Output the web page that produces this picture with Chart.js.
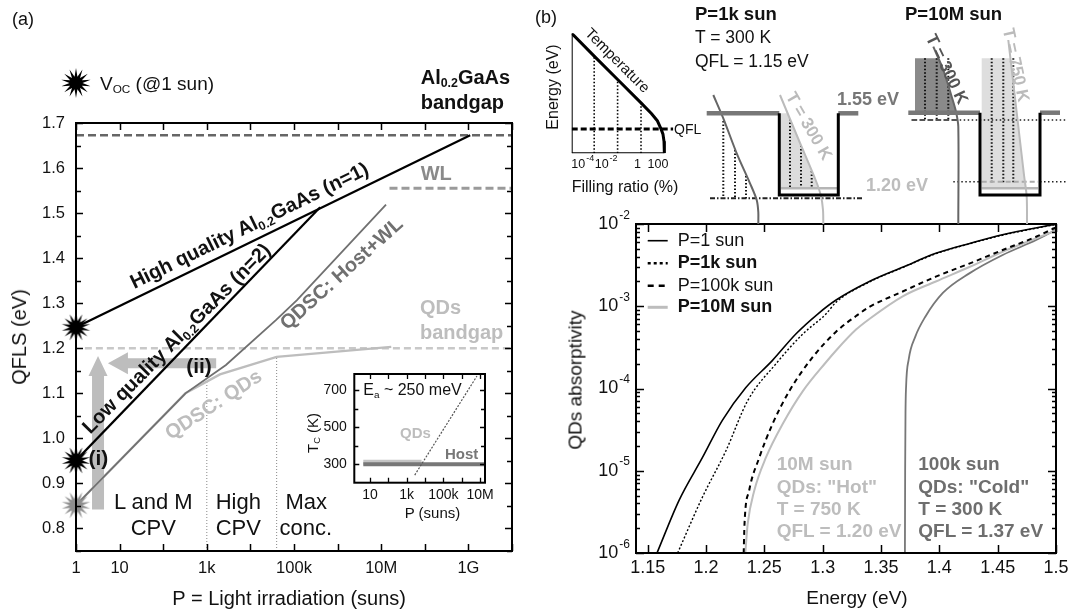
<!DOCTYPE html>
<html><head><meta charset="utf-8">
<script src="https://cdn.jsdelivr.net/npm/chart.js@4.4.1/dist/chart.umd.min.js"></script>
<style>
html,body{margin:0;padding:0;background:#fff;}
#root{position:relative;width:1069px;height:609px;overflow:hidden;font-family:"Liberation Sans",Arial,Helvetica,sans-serif;color:#000;background:#fff;}
canvas{position:absolute;}
.t{position:absolute;white-space:nowrap;line-height:1;}
.t sub{font-size:62%;vertical-align:-0.28em;line-height:0;}
</style></head>
<body><div id="root">
<canvas id="cA" width="530" height="609" style="left:0px;top:0px"></canvas>
<canvas id="cI" width="215" height="160" style="left:290px;top:365px"></canvas>
<canvas id="cB" width="539" height="409" style="left:530px;top:200px"></canvas>
<canvas id="cS" width="150" height="180" style="left:540px;top:20px"></canvas>
<canvas id="cW" width="379" height="224" style="left:690px;top:0px"></canvas>
<canvas id="cStar" width="34" height="34" style="left:59px;top:66px"></canvas>
</div>
<script>
// ================= DATA =================
// ---- Panel (a): QFLS vs light irradiation ----
const aXTicks = [1,10,1e2,1e3,1e4,1e5,1e6,1e7,1e8,1e9,1e10];
const aXTickLabels = ['1','10','','1k','','100k','','10M','','1G',''];
const aYTicks = [0.8,0.9,1.0,1.1,1.2,1.3,1.4,1.5,1.6,1.7];
const aYTickLabels = ['0.8','0.9','1.0','1.1','1.2','1.3','1.4','1.5','1.6','1.7'];
const aYMinor = [0.75,0.85,0.95,1.05,1.15,1.25,1.35,1.45,1.55,1.65];

const highQualityP = [1, 1.1e9];
const highQualityQFLS = [1.2465, 1.673];
const lowQualityP = [1, 3.98e5];
const lowQualityQFLS = [0.951, 1.513];
const hostWLP = [1, 324, 2750, 3.9e4, 1.17e5, 1.29e7];
const hostWLQFLS = [0.8516, 1.100, 1.163, 1.263, 1.307, 1.519];
const qdsP = [1, 324, 2000, 4.0e4, 1.7e7];
const qdsQFLS = [0.8516, 1.100, 1.142, 1.181, 1.203];
const alGapP = [1, 1e10], alGapE = [1.673, 1.673];
const wlP = [1.55e7, 1e10], wlE = [1.555, 1.555];
const qdGapP = [1.6, 1e10], qdGapE = [1.2, 1.2];
const bound1P = [1e3, 1e3], bound1E = [0.75, 1.13];
const bound2P = [4e4, 4e4], bound2E = [0.75, 1.181];
const vocP = [1, 1, 1];
const vocQFLS = [1.2465, 0.951, 0.8516];
const arrowIP = [3.2, 3.2], arrowIE = [0.842, 1.183];
const arrowIIP = [1640, 5.4], arrowIIE = [1.1667, 1.1667];

// ---- Panel (a) inset: carrier temperature ----
const iXTicks = [10,1e3,1e5,1e7];
const iXTickLabels = ['10','1k','100k','10M'];
const iXMinor = [1e2,1e4,1e6];
const iYTicks = [300,500,700];
const iYTickLabels = ['300','500','700'];
const iYMinor = [400,600];
const iHostP = [4.3, 1.87e7], iHostT = [300, 300];
const iQDP = [4.3, 6500], iQDT = [311, 311];
const iQDHotP = [2750, 6.8e6], iQDHotT = [242, 775];

// ---- Panel (b): QD absorptivity vs energy ----
const bXTicks = [1.15,1.2,1.25,1.3,1.35,1.4,1.45,1.5];
const bXTickLabels = ['1.15','1.2','1.25','1.3','1.35','1.4','1.45','1.5'];
const bYTicks = [1e-6,1e-5,1e-4,1e-3,1e-2];
const bYTickLabels = [['10','-6'],['10','-5'],['10','-4'],['10','-3'],['10','-2']];
const bLegendLabels = ['P=1 sun','P=1k sun','P=100k sun','P=10M sun'];
const bLegendBold = [false,true,false,true];

const e1sun = [1.158,1.177,1.197,1.214,1.234,1.257,1.277,1.296,1.3115,1.34,1.369,1.397,1.426,1.454,1.5];
const a1sun = [1.0e-6,4.4e-6,1.45e-5,4.1e-5,1.02e-4,2.2e-4,4.6e-4,8.1e-4,1.19e-3,2.0e-3,3.0e-3,4.4e-3,5.8e-3,7.4e-3,1.0e-2];
const e1k = [1.1757,1.197,1.217,1.2357,1.26,1.283,1.303,1.3115,1.34,1.369,1.397,1.426,1.454,1.5];
const a1k = [1.0e-6,4.8e-6,1.74e-5,7.1e-5,2.0e-4,4.6e-4,8.1e-4,1.12e-3,1.97e-3,2.97e-3,4.35e-3,5.75e-3,7.3e-3,9.9e-3];
const e100k = [1.2323,1.233,1.237,1.2457,1.257,1.2714,1.2914,1.3115,1.3286,1.34,1.3686,1.397,1.4257,1.4543,1.483,1.5];
const a100k = [1.0e-6,2.24e-6,5.75e-6,1.45e-5,3.7e-5,9.3e-5,2.4e-4,4.9e-4,7.6e-4,9.8e-4,1.51e-3,2.29e-3,3.3e-3,4.83e-3,7.0e-3,9.1e-3];
const e10M = [1.2337,1.2357,1.2414,1.2514,1.2657,1.283,1.303,1.3115,1.3286,1.34,1.3686,1.397,1.4257,1.4543,1.483,1.5];
const a10M = [1.0e-6,2.24e-6,5.75e-6,1.45e-5,3.7e-5,9.3e-5,2.1e-4,2.9e-4,5.2e-4,7.0e-4,1.32e-3,2.0e-3,3.0e-3,4.6e-3,6.7e-3,8.3e-3];
const eCold = [1.3705,1.3707,1.371,1.3715,1.3737,1.3794,1.388,1.403,1.4257,1.4543,1.483,1.5];
const aCold = [1.0e-6,1.0e-5,5.0e-5,1.05e-4,2.24e-4,4.27e-4,7.46e-4,1.45e-3,2.51e-3,4.2e-3,6.38e-3,8.5e-3];

// ---- Panel (b) sketch: energy vs filling ratio ----
const sXTicks = [1e-4,1e-2,1,100];
const sXTickLabels = [['10','-4'],['10','-2'],['1',''],['100','']];
const sXTickShift = [0,0,0,4];
const fillRatio = [1.2e-6,1e-4,1e-2,1,8,25,50,75,92,98,100];
const fillEnergy = [1.0,0.81,0.615,0.42,0.33,0.27,0.205,0.16,0.1,0.05,0.0];
const sQFL = 0.2025;
const sDropTops = [0.81,0.615,0.42];

// ---- Panel (b) band-diagram schematics (schematic page coordinates) ----
const lBarrierL = [[706.7,113.3],[779.3,113.3]];
const lBarrierR = [[838.3,113.3],[858.3,113.3]];
const lWell = [[779.3,113.3],[779.3,195],[838.3,195],[838.3,113.3]];
const lFill = [[781,113.3],[787.6,113.3],[818.9,188.3],[781,188.3]];
const lQDLevel = [[781,188.3],[837,188.3]];
const lHostCurve = [[713.3,95],[723.3,118.3],[736.7,153.3],[750,183.3],[756.7,200],[758.3,212],[758.3,224]];
const lQDCurve = [[780,95],[800,143],[816,181],[821,196],[823,210],[823.3,224]];
const lQFL = [[710,198.3],[863.3,198.3]];
const lDropsHost = [[723.3,121,198.3],[735,150,198.3],[746,176,198.3]];
const lDropsQD = [[790,119,188.3],[801,145.4,188.3],[811.7,171,188.3]];
const rBarrierL = [[908.3,112.7],[980,112.7]];
const rBarrierR = [[1040,112.7],[1060,112.7]];
const rWell = [[980,112.7],[980,195],[1040,195],[1040,112.7]];
const rHostFill = [[915,58.3],[938.3,58.3],[943.3,70],[951.7,96.7],[956,111.7],[915,111.7]];
const rQDFill = [[981.7,58.3],[1010.4,58.3],[1025,181.7],[1025.6,188.3],[981.7,188.3]];
const rHostCurve = [[933.3,46.7],[943.3,70],[951.7,96.7],[956,111.7],[958.3,126.7],[958.3,224]];
const rQDCurve = [[1008.3,40],[1017,115],[1024,175],[1026.7,196.7],[1027,224]];
const rDropsHost = [[925,58.3,120],[936.7,58.3,120],[948.3,58.3,120]];
const rDropsQD = [[991.7,58.3,183.3],[1003.3,58.3,183.3],[1013.3,58.3,183.3]];
const rQDLevel = [[981.7,188.3],[1038,188.3]];
const rHostQFL = [[911.7,120],[1067,120]];
const rHostQFLDash = [[911.7,120],[956.7,120]];
const rQDQFLLeft = [[953.3,181.7],[980,181.7]];
const rQDQFLRight = [[1040,181.7],[1067,181.7]];
const rQDQFLIn = [[981.7,181.7],[1038,181.7]];

// ================= HELPERS =================
const FONT = '"Liberation Sans", Arial, Helvetica, sans-serif';
Chart.defaults.font.family = FONT;
Chart.defaults.animation = false;
Chart.defaults.events = [];
Chart.defaults.plugins.legend.display = false;
Chart.defaults.plugins.tooltip.enabled = false;

function pts(xs, ys){ return xs.map((x,i)=>({x:x, y:ys[i]})); }
function pairs(arr){ return arr.map(p=>({x:p[0], y:p[1]})); }
function lineDS(data, color, width, dash, extra){
  return Object.assign({data:data, showLine:true, borderColor:color, borderWidth:width, borderDash:dash||[],
    pointRadius:0, fill:false, tension:0}, extra||{});
}
function hiddenAxis(type, min, max, fitProp, fitVal, extra){
  return Object.assign({type:type, min:min, max:max, display:true, ticks:{display:false}, grid:{display:false}, border:{display:false},
    afterFit: s=>{ s[fitProp]=fitVal; }}, extra||{});
}
function drawLabel(ctx, lab, x, y, align, size, color){
  const base = Array.isArray(lab)?lab[0]:lab, exp = Array.isArray(lab)?lab[1]:'';
  const fb = size+'px '+FONT, fe = Math.round(size*0.68)+'px '+FONT;
  ctx.textBaseline='middle'; ctx.textAlign='left'; ctx.fillStyle=color||'#111';
  ctx.font=fb; const wb=ctx.measureText(base).width;
  ctx.font=fe; const we = exp ? ctx.measureText(exp).width+1 : 0;
  const w=wb+we;
  const x0 = align==='center' ? x-w/2 : (align==='right' ? x-w : x);
  ctx.font=fb; ctx.fillText(base, x0, y);
  if(exp){ ctx.font=fe; ctx.fillText(exp, x0+wb+1, y-size*0.48); }
}
function framePlugin(cfg){
  return {id:'frame', afterDatasetsDraw(chart){
    const ctx=chart.ctx, a=chart.chartArea, sx=chart.scales.x, sy=chart.scales.y;
    ctx.save(); ctx.strokeStyle='#000'; ctx.lineWidth=cfg.tickWidth||1.5;
    (cfg.x||[]).forEach(t=>t.values.forEach(v=>{
      const p=Math.round(sx.getPixelForValue(v))+0.5; if(p<a.left-1||p>a.right+1) return;
      ctx.beginPath();
      ctx.moveTo(p,a.bottom);ctx.lineTo(p,a.bottom-t.len);
      ctx.moveTo(p,a.top);ctx.lineTo(p,a.top+t.len);
      ctx.stroke();
    }));
    (cfg.y||[]).forEach(t=>t.values.forEach(v=>{
      const p=Math.round(sy.getPixelForValue(v))+0.5; if(p<a.top-1||p>a.bottom+1) return;
      ctx.beginPath();
      ctx.moveTo(a.left,p);ctx.lineTo(a.left+t.len,p);
      ctx.moveTo(a.right,p);ctx.lineTo(a.right-t.len,p);
      ctx.stroke();
    }));
    ctx.lineWidth=cfg.width||2; ctx.strokeRect(a.left,a.top,a.right-a.left,a.bottom-a.top);
    ctx.restore();
  }};
}
function tickLabelPlugin(cfg){
  return {id:'tickLabels', afterDraw(chart){
    const ctx=chart.ctx, a=chart.chartArea;
    ctx.save();
    if(cfg.x){ const s=chart.scales.x; cfg.x.values.forEach((v,i)=>{ const l=cfg.x.labels[i]; if(!l) return;
      const dx = Array.isArray(cfg.x.dx) ? cfg.x.dx[i] : (cfg.x.dx||0);
      drawLabel(ctx,l,s.getPixelForValue(v)+dx,a.bottom+cfg.x.offset,cfg.x.align||'center',cfg.x.size,cfg.x.color);});}
    if(cfg.y){ const s=chart.scales.y; cfg.y.values.forEach((v,i)=>{ const l=cfg.y.labels[i]; if(!l) return;
      drawLabel(ctx,l,a.left-cfg.y.offset,s.getPixelForValue(v),'right',cfg.y.size,cfg.y.color);});}
    ctx.restore();
  }};
}
function drawArrow(ctx,x0,y0,x1,y1,sw,hl,hw,color){
  const ang=Math.atan2(y1-y0,x1-x0), len=Math.hypot(x1-x0,y1-y0);
  ctx.save(); ctx.translate(x0,y0); ctx.rotate(ang); ctx.fillStyle=color; ctx.beginPath();
  ctx.moveTo(0,-sw/2); ctx.lineTo(len-hl,-sw/2); ctx.lineTo(len-hl,-hw/2); ctx.lineTo(len,0);
  ctx.lineTo(len-hl,hw/2); ctx.lineTo(len-hl,sw/2); ctx.lineTo(0,sw/2); ctx.closePath(); ctx.fill(); ctx.restore();
}
function makeStar(color,R,r,n,cv){
  const c=cv||document.createElement('canvas'); const s=cv?cv.width:Math.ceil(2*R+2);
  if(!cv){c.width=c.height=s;}
  const g=c.getContext('2d'); g.fillStyle=color; g.beginPath();
  for(let i=0;i<2*n;i++){ const ang=-Math.PI/2+i*Math.PI/n; const rr=i%2?r:R; g.lineTo(s/2+rr*Math.cos(ang), s/2+rr*Math.sin(ang)); }
  g.closePath(); g.fill(); return c;
}
const starBlack = makeStar('#000',14.5,6.5,14);
const starGray = makeStar('#8e8e8e',14.5,6.5,14);
makeStar('#000',15,6.5,14,document.getElementById('cStar'));

// ================= PANEL (a) =================
new Chart(document.getElementById('cA'), {
  type:'scatter',
  data:{datasets:[
    {data:pts(vocP,vocQFLS), pointStyle:[starBlack,starBlack,starGray], pointRadius:14, showLine:false, clip:false},
    lineDS(pts(highQualityP,highQualityQFLS),'#000',2.2),
    lineDS(pts(lowQualityP,lowQualityQFLS),'#000',2.2),
    lineDS(pts(hostWLP,hostWLQFLS),'#707070',1.8),
    lineDS(pts(qdsP,qdsQFLS),'#bdbdbd',2.4),
    lineDS(pts(alGapP,alGapE),'#666',2.5,[8,4]),
    lineDS(pts(wlP,wlE),'#9a9a9a',3,[8,4]),
    lineDS(pts(qdGapP,qdGapE),'#c8c8c8',2.5,[7,4]),
    lineDS(pts(bound1P,bound1E),'#888',1,[1,2]),
    lineDS(pts(bound2P,bound2E),'#888',1,[1,2])
  ]},
  options:{responsive:false, devicePixelRatio:1,
    layout:{padding:{left:0,top:123,right:18,bottom:0}},
    scales:{ x:hiddenAxis('logarithmic',1,1e10,'height',58), y:hiddenAxis('linear',0.75,1.7,'width',76) }
  },
  plugins:[
    {id:'arrows', beforeDatasetsDraw(chart){ const sx=chart.scales.x, sy=chart.scales.y, ctx=chart.ctx;
      drawArrow(ctx,sx.getPixelForValue(arrowIP[0]),sy.getPixelForValue(arrowIE[0]),sx.getPixelForValue(arrowIP[1]),sy.getPixelForValue(arrowIE[1]),12,20,19,'#bdbdbd');
      drawArrow(ctx,sx.getPixelForValue(arrowIIP[0]),sy.getPixelForValue(arrowIIE[0]),sx.getPixelForValue(arrowIIP[1]),sy.getPixelForValue(arrowIIE[1]),10,20,22,'#bdbdbd');
    }},
    framePlugin({x:[{values:aXTicks,len:7}], y:[{values:aYTicks,len:7},{values:aYMinor,len:5}], width:2}),
    tickLabelPlugin({x:{values:aXTicks,labels:aXTickLabels,offset:17.5,size:16.5}, y:{values:aYTicks,labels:aYTickLabels,offset:11,size:16.5}})
  ]
});

// ---- inset (a) ----
new Chart(document.getElementById('cI'), {
  type:'scatter',
  data:{datasets:[
    lineDS(pts(iQDHotP,iQDHotT),'#555',1.2,[2,1.5]),
    lineDS(pts(iHostP,iHostT),'#777',4),
    lineDS(pts(iQDP,iQDT),'#c4c4c4',5)
  ]},
  options:{responsive:false, devicePixelRatio:1,
    layout:{padding:{left:0,top:9,right:20,bottom:0}},
    scales:{ x:hiddenAxis('logarithmic',1.39,1.87e7,'height',42.3), y:hiddenAxis('linear',201,786,'width',64.3) }
  },
  plugins:[
    {id:'bg', beforeDatasetsDraw(chart){ const a=chart.chartArea, c=chart.ctx; c.save(); c.fillStyle='#fff'; c.fillRect(a.left,a.top,a.right-a.left,a.bottom-a.top); c.restore(); }},
    framePlugin({x:[{values:iXTicks,len:5},{values:iXMinor,len:5}], y:[{values:iYTicks,len:5},{values:iYMinor,len:4}], width:2, tickWidth:1.3}),
    tickLabelPlugin({x:{values:iXTicks,labels:iXTickLabels,offset:12.5,size:14}, y:{values:iYTicks,labels:iYTickLabels,offset:7.5,size:14}})
  ]
});

// ================= PANEL (b) =================
const bYMinor = bYTicks.slice(0,-1).flatMap(d=>[2,3,4,5,6,7,8,9].map(m=>m*d));
new Chart(document.getElementById('cB'), {
  type:'scatter',
  data:{datasets:[
    lineDS(pts(e1sun,a1sun),'#000',1.6,[],{cubicInterpolationMode:'monotone'}),
    lineDS(pts(e1k,a1k),'#000',1.4,[2,2],{cubicInterpolationMode:'monotone'}),
    lineDS(pts(e100k,a100k),'#000',2,[5,4],{cubicInterpolationMode:'monotone'}),
    lineDS(pts(e10M,a10M),'#bdbdbd',2,[],{cubicInterpolationMode:'monotone'}),
    lineDS(pts(eCold,aCold),'#777',1.8,[],{cubicInterpolationMode:'monotone'})
  ]},
  options:{responsive:false, devicePixelRatio:1,
    layout:{padding:{left:0,top:24,right:13,bottom:0}},
    scales:{ x:hiddenAxis('linear',1.14,1.5,'height',56), y:hiddenAxis('logarithmic',1e-6,1e-2,'width',106) }
  },
  plugins:[
    framePlugin({x:[{values:bXTicks,len:8}], y:[{values:bYTicks,len:8},{values:bYMinor,len:4}], width:2}),
    tickLabelPlugin({x:{values:bXTicks,labels:bXTickLabels,offset:15,size:18}, y:{values:bYTicks,labels:bYTickLabels,offset:6,size:18}}),
    {id:'legendB', afterDraw(chart){ const ctx=chart.ctx, a=chart.chartArea; const rows=[16.7,39.3,61.7,83.3];
      ctx.save();
      bLegendLabels.forEach((lab,i)=>{ const ds=chart.data.datasets[i]; const y=a.top+rows[i];
        ctx.strokeStyle=ds.borderColor; ctx.lineWidth= i===3?3:(i===0?1.6:2.5); ctx.setLineDash(i===1?[3,3]:(i===2?[6,5]:[]));
        ctx.beginPath(); ctx.moveTo(a.left+11.7,y); ctx.lineTo(a.left+31.7,y); ctx.stroke(); ctx.setLineDash([]);
        ctx.fillStyle='#111'; ctx.font=(bLegendBold[i]?'bold ':'')+'18px '+FONT; ctx.textBaseline='middle'; ctx.textAlign='left';
        ctx.fillText(lab,a.left+41.7,y);
      });
      ctx.restore();
    }}
  ]
});

// ---- sketch (b): energy vs filling ratio ----
new Chart(document.getElementById('cS'), {
  type:'scatter',
  data:{datasets:[
    lineDS(pts(fillRatio,fillEnergy),'#000',3),
    lineDS(pts([1.2e-6,1.2e-6],[0,1]),'#000',2),
    lineDS(pts([1.2e-6,100],[0,0]),'#000',2),
    lineDS(pts([1.2e-6,550],[sQFL,sQFL]),'#000',3,[6,3]),
    lineDS(pts([sXTicks[0],sXTicks[0]],[0,sDropTops[0]]),'#000',1.6,[1.5,2]),
    lineDS(pts([sXTicks[1],sXTicks[1]],[0,sDropTops[1]]),'#000',1.6,[1.5,2]),
    lineDS(pts([sXTicks[2],sXTicks[2]],[0,sDropTops[2]]),'#000',1.6,[1.5,2])
  ]},
  options:{responsive:false, devicePixelRatio:1,
    layout:{padding:{left:0,top:13.3,right:15,bottom:0}},
    scales:{ x:hiddenAxis('logarithmic',1.2e-6,800,'height',46.7), y:hiddenAxis('linear',0,1,'width',31.7) }
  },
  plugins:[ tickLabelPlugin({x:{values:sXTicks,labels:sXTickLabels,offset:11,size:12.5,align:'right',dx:sXTickShift}}) ]
});

// ---- band diagrams (b) ----
const polys = [[lFill,'#dcdcdc'],[rQDFill,'#dedede'],[rHostFill,'#8a8a8a']];
const wellDS = [
  lineDS(pairs(lWell),'#000',3), lineDS(pairs(rWell),'#000',3),
  lineDS(pairs(lBarrierL),'#777',4.5), lineDS(pairs(lBarrierR),'#777',4.5),
  lineDS(pairs(rBarrierL),'#777',4.5), lineDS(pairs(rBarrierR),'#777',4.5),
  lineDS(pairs(lHostCurve),'#666',2,[],{tension:0.3}), lineDS(pairs(lQDCurve),'#bbb',2,[],{tension:0.3}),
  lineDS(pairs(rHostCurve),'#666',2,[],{tension:0.3}), lineDS(pairs(rQDCurve),'#bbb',2,[],{tension:0.3}),
  lineDS(pairs(lQDLevel),'#b5b5b5',2.5), lineDS(pairs(rQDLevel),'#b5b5b5',2.5),
  lineDS(pairs(lQFL),'#222',2,[5,2,1.5,2]),
  lineDS(pairs(rHostQFLDash),'#555',2,[5,3]), lineDS(pairs(rHostQFL),'#222',1.6,[1.5,2.5]),
  lineDS(pairs(rQDQFLLeft),'#222',1.6,[1.5,2.5]), lineDS(pairs(rQDQFLRight),'#222',1.6,[1.5,2.5]),
  lineDS(pairs(rQDQFLIn),'#aaa',2,[5,3])
];
[lDropsHost,lDropsQD,rDropsHost,rDropsQD].forEach(set=>set.forEach(d=>{
  wellDS.push(lineDS([{x:d[0],y:d[1]},{x:d[0],y:d[2]}],'#111',2,[1.5,2]));
}));
new Chart(document.getElementById('cW'), {
  type:'scatter',
  data:{datasets:wellDS},
  options:{responsive:false, devicePixelRatio:1, layout:{padding:0},
    scales:{ x:{type:'linear',min:690,max:1069,display:false}, y:{type:'linear',min:0,max:224,reverse:true,display:false} }
  },
  plugins:[{id:'polys', beforeDatasetsDraw(chart){ const sx=chart.scales.x, sy=chart.scales.y, ctx=chart.ctx;
    polys.forEach(([pl,col])=>{ ctx.save(); ctx.fillStyle=col; ctx.beginPath();
      pl.forEach((p,i)=>{ const X=sx.getPixelForValue(p[0]), Y=sy.getPixelForValue(p[1]); i?ctx.lineTo(X,Y):ctx.moveTo(X,Y); });
      ctx.closePath(); ctx.fill(); ctx.restore(); });
  }}]
});

// ================= TEXT =================
// [html, x, y, size, bold, color, anchor('l'|'c'), rotation]
const texts = [
  ['(a)',12,19,18,0,'#111','l',0],
  ['V<sub>OC</sub> (@1 sun)',100,83,19,0,'#111','l',0],
  ['Al<sub>0.2</sub>GaAs',420.7,77.3,20,1,'#111','l',0],
  ['bandgap',420.7,101.7,20,1,'#111','l',0],
  ['WL',420.7,172.7,20,1,'#8a8a8a','l',0],
  ['QDs',420,306.7,20,1,'#bdbdbd','l',0],
  ['bandgap',420,331.7,20,1,'#bdbdbd','l',0],
  ['High quality Al<sub>0.2</sub>GaAs (n=1)',249.2,225,20,1,'#111','c',-26.1],
  ['Low quality Al<sub>0.2</sub>GaAs (n=2)',175.8,338.3,20,1,'#111','c',-45.3],
  ['QDSC: Host+WL',341.3,272.9,20,1,'#707070','c',-42],
  ['QDSC: QDs',213,404,20,1,'#bdbdbd','c',-33.3],
  ['(i)',98.3,456.7,21,1,'#111','c',0],
  ['(ii)',199,365,21,1,'#111','c',0],
  ['L and M',153.3,501.7,22,0,'#111','c',0],
  ['CPV',153.3,528.3,22,0,'#111','c',0],
  ['High',238.3,501.7,22,0,'#111','c',0],
  ['CPV',238.3,528.3,22,0,'#111','c',0],
  ['Max',306.3,501.7,22,0,'#111','c',0],
  ['conc.',305.8,528.3,22,0,'#111','c',0],
  ['QFLS (eV)',19,337,20,0,'#111','c',-90],
  ['P = Light irradiation (suns)',289.2,598.3,20,0,'#111','c',0],
  ['E<sub>a</sub> ~ 250 meV',363.3,390,16,0,'#111','l',0],
  ['QDs',400,432.3,15,1,'#bdbdbd','l',0],
  ['Host',445,452.7,15,1,'#777','l',0],
  ['T<sub>C</sub> (K)',311.7,433.3,15,0,'#111','c',-90],
  ['P (suns)',432.5,511.7,15,0,'#111','c',0],
  ['(b)',535,17,18,0,'#111','l',0],
  ['P=1k sun',695,13.5,18.5,1,'#111','l',0],
  ['T = 300 K',695,37.5,17.5,0,'#111','l',0],
  ['QFL = 1.15 eV',695,62,17.5,0,'#111','l',0],
  ['P=10M sun',905,13.5,18.5,1,'#111','l',0],
  ['1.55 eV',837,99,18,1,'#777','l',0],
  ['1.20 eV',866,185,18,1,'#bdbdbd','l',0],
  ['T = 300 K',809,126,17,1,'#bbb','c',60],
  ['T = 300 K',947,69,17,1,'#555','c',64],
  ['T = 750 K',1016,65,17,1,'#bbb','c',78],
  ['Energy (eV)',553.3,86.7,16,0,'#111','c',-90],
  ['Temperature',618.3,60,15,0,'#111','c',45],
  ['Filling ratio (%)',625,186.7,16,0,'#111','c',0],
  ['QFL',674,129,14,0,'#111','l',0],
  ['10M sun',776.7,463.3,19,1,'#bdbdbd','l',0],
  ['QDs: "Hot"',776.7,486,19,1,'#bdbdbd','l',0],
  ['T = 750 K',776.7,507.7,19,1,'#bdbdbd','l',0],
  ['QFL = 1.20 eV',776.7,530,19,1,'#bdbdbd','l',0],
  ['100k sun',918.3,463.3,19,1,'#6e6e6e','l',0],
  ['QDs: "Cold"',918.3,486,19,1,'#6e6e6e','l',0],
  ['T = 300 K',918.3,507.7,19,1,'#6e6e6e','l',0],
  ['QFL = 1.37 eV',918.3,530,19,1,'#6e6e6e','l',0],
  ['Energy (eV)',857,597,19,0,'#111','c',0],
  ['QDs absorptivity',575,380,19,0,'#111','c',-90]
];
const root=document.getElementById('root');
texts.forEach(t=>{
  const d=document.createElement('div'); d.className='t'; d.innerHTML=t[0];
  d.style.left=t[1]+'px'; d.style.top=t[2]+'px'; d.style.fontSize=t[3]+'px';
  d.style.fontWeight=t[4]?'bold':'normal'; d.style.color=t[5];
  d.style.transform = t[6]==='l' ? 'translate(0,-50%)' : 'translate(-50%,-50%) rotate('+t[7]+'deg)';
  root.appendChild(d);
});
</script>
</body></html>
